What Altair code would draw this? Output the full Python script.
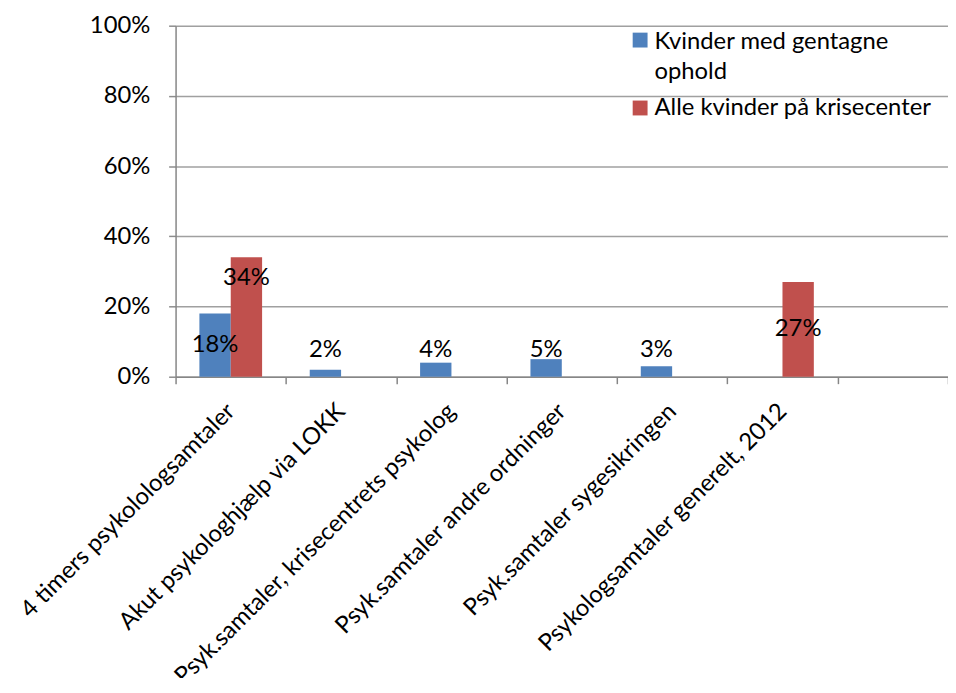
import altair as alt
import pandas as pd

categories = [
    "4 timers psykolologsamtaler",
    "Akut psykologhjælp via LOKK",
    "Psyk.samtaler, krisecentrets psykolog",
    "Psyk.samtaler andre ordninger",
    "Psyk.samtaler sygesikringen",
    "Psykologsamtaler generelt, 2012",
]
axis_slots = categories + [" "]
series_names = ["Kvinder med gentagne ophold", "Alle kvinder på krisecenter"]
legend_lines = [["Kvinder med gentagne", "ophold"], ["Alle kvinder på krisecenter"]]
repeat_values = [0.18, 0.02, 0.04, 0.05, 0.03, None]
all_values = [0.34, None, None, None, None, 0.27]
colors = ["#4F81BD", "#C0504D"]

rows = []
for cat, v in zip(categories, repeat_values):
    if v is not None:
        rows.append({"cat": cat, "series": series_names[0], "value": v})
for cat, v in zip(categories, all_values):
    if v is not None:
        rows.append({"cat": cat, "series": series_names[1], "value": v})
df = pd.DataFrame(rows)

FONT = "Lato"
FS = 24

x_enc = alt.X(
    "cat:N",
    sort=axis_slots,
    scale=alt.Scale(domain=axis_slots, paddingInner=0, paddingOuter=0),
    axis=alt.Axis(
        title=None,
        labelAngle=-45,
        labelAlign="right",
        labelBaseline="middle",
        labelFont=FONT,
        labelFontSize=FS,
        labelColor="black",
        labelPadding=24,
        labelLimit=0,
        tickBand="extent",
        tickSize=7,
        tickColor="#868686",
        domainColor="#868686",
        domainWidth=1.5,
        tickWidth=1.5,
        grid=False,
    ),
)
xoff_enc = alt.XOffset(
    "series:N",
    scale=alt.Scale(domain=series_names, paddingInner=0, paddingOuter=0.76),
)

bars = alt.Chart(df).mark_bar().encode(
    x=x_enc,
    xOffset=xoff_enc,
    y=alt.Y(
        "value:Q",
        scale=alt.Scale(domain=[0, 1]),
        axis=alt.Axis(
            title=None,
            format=".0%",
            values=[0, 0.2, 0.4, 0.6, 0.8, 1.0],
            labelFont=FONT,
            labelFontSize=FS,
            labelColor="black",
            labelPadding=19,
            tickSize=7,
            tickColor="#8C8C8C",
            tickWidth=1.5,
            domainColor="#868686",
            domainWidth=1.5,
            gridColor="#A0A0A0",
            gridWidth=1.5,
        ),
    ),
    color=alt.Color(
        "series:N",
        scale=alt.Scale(domain=series_names, range=colors),
        legend=None,
    ),
)

labels = alt.Chart(df).transform_calculate(
    label_y="datum.value < 0.1 ? 0.076 : (datum.value > 0.3 ? datum.value - 0.06 : datum.value / 2)"
).mark_text(font=FONT, fontSize=FS, color="black", baseline="middle").encode(
    x=alt.X("cat:N", sort=axis_slots),
    xOffset=alt.XOffset("series:N"),
    y=alt.Y("label_y:Q"),
    text=alt.Text("value:Q", format=".0%"),
)

# legend (drawn as guide marks inside the plot area, top right)
legend_layers = []
sym_y = [14.5, 83]
txt_y = [24, 90]
for i, name in enumerate(series_names):
    ldf = pd.DataFrame({"series": [name]})
    legend_layers.append(
        alt.Chart(ldf).mark_square(size=225, opacity=1, color=colors[i]).encode(
            x=alt.value(468.5), y=alt.value(sym_y[i])
        )
    )
    legend_layers.append(
        alt.Chart(ldf).mark_text(
            font=FONT, fontSize=FS, color="black", align="left",
            baseline="alphabetic", lineHeight=30,
        ).encode(
            x=alt.value(483), y=alt.value(txt_y[i]), text=alt.value(legend_lines[i])
        )
    )

chart = (
    alt.layer(bars, labels, *legend_layers)
    .properties(
        width=779,
        height=354,
        autosize=alt.AutoSizeParams(type="none"),
        padding={"left": 169, "top": 15, "right": 0, "bottom": 301},
    )
    .configure_view(stroke=None)
)

chart.save("out.html", embed_options={"renderer": "svg", "actions": False})
